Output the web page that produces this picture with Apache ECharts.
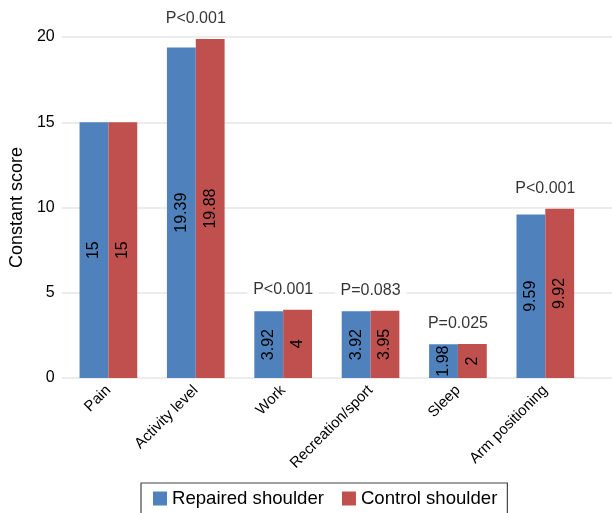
<!DOCTYPE html>
<html>
<head>
<meta charset="utf-8">
<script src="https://cdn.jsdelivr.net/npm/echarts@6/dist/echarts.min.js"></script>
<style>
  html, body { margin: 0; padding: 0; background: #fff; }
  #chart { width: 612px; height: 513px; }
</style>
</head>
<body>
<div id="chart"></div>
<script>
  const categories = ['Pain', 'Activity level', 'Work', 'Recreation/sport', 'Sleep', 'Arm positioning'];
  const repaired = [15, 19.39, 3.92, 3.92, 1.98, 9.59];
  const control = [15, 19.88, 4, 3.95, 2, 9.92];
  const pLabels = ['', 'P<0.001', 'P<0.001', 'P=0.083', 'P=0.025', 'P<0.001'];
  const yTicks = [0, 5, 10, 15, 20];

  const font = '"Liberation Sans", Arial, sans-serif';
  const ink = '#000';
  const chart = echarts.init(document.getElementById('chart'));

  const barLabel = {
    show: true,
    position: 'inside',
    rotate: 90,
    color: ink,
    fontSize: 16,
    fontFamily: font,
  };

  // top of each pair, used to place the P value above it
  const pairTops = repaired.map((v, i) => Math.max(v, control[i]));

  const yMin = yTicks[0];
  const yMax = yTicks[yTicks.length - 1];

  chart.setOption({
    animation: false,
    backgroundColor: '#fff',
    grid: [
      { left: 62, right: 23, top: 37, bottom: 135 },
      // wider grid only for the gridlines, which run to the right edge
      { left: 62, right: 0, top: 37, bottom: 135 },
    ],
    legend: {
      data: ['Repaired shoulder', 'Control shoulder'],
      icon: 'rect',
      left: 141,
      top: 483,
      padding: [6, 10, 12, 12],
      itemGap: 18,
      itemWidth: 14,
      itemHeight: 14,
      borderColor: '#444',
      borderWidth: 1.2,
      textStyle: { fontSize: 18.6, color: ink, fontFamily: font },
    },
    xAxis: [
      {
        type: 'category',
        data: categories,
        axisLine: { show: false },
        axisTick: { show: false },
        axisLabel: {
          rotate: 45,
          margin: 10,
          fontSize: 15,
          color: ink,
          fontFamily: font,
          interval: 0,
        },
      },
      { type: 'category', gridIndex: 1, data: categories, show: false },
    ],
    yAxis: [
      {
        type: 'value',
        min: yMin,
        max: yMax,
        interval: 5,
        name: 'Constant score',
        nameLocation: 'middle',
        nameGap: 38,
        nameTextStyle: { fontSize: 18, color: ink, fontFamily: font },
        axisLine: { show: false },
        axisTick: { show: false },
        axisLabel: { fontSize: 16, color: ink, fontFamily: font, margin: 10 },
        splitLine: { show: false },
      },
      {
        type: 'value',
        gridIndex: 1,
        min: yMin,
        max: yMax,
        interval: 5,
        axisLine: { show: false },
        axisTick: { show: false },
        axisLabel: { show: false },
        splitLine: { lineStyle: { color: '#e6e6e6', width: 1.5 } },
      },
    ],
    series: [
      {
        name: 'Repaired shoulder',
        type: 'bar',
        data: repaired,
        barGap: '0%',
        barCategoryGap: '34%',
        itemStyle: { color: '#4F81BD' },
        label: barLabel,
      },
      {
        name: 'Control shoulder',
        type: 'bar',
        data: control,
        itemStyle: { color: '#C0504D' },
        label: barLabel,
      },
      {
        name: 'p',
        type: 'scatter',
        data: pairTops,
        symbolSize: 0,
        silent: true,
        z: 5,
        label: {
          show: true,
          position: 'top',
          distance: 11,
          formatter: (p) => pLabels[p.dataIndex],
          fontSize: 16,
          color: ink,
          fontFamily: font,
          backgroundColor: '#fff',
          padding: [1, 6],
        },
      },
    ],
  });
</script>
</body>
</html>
